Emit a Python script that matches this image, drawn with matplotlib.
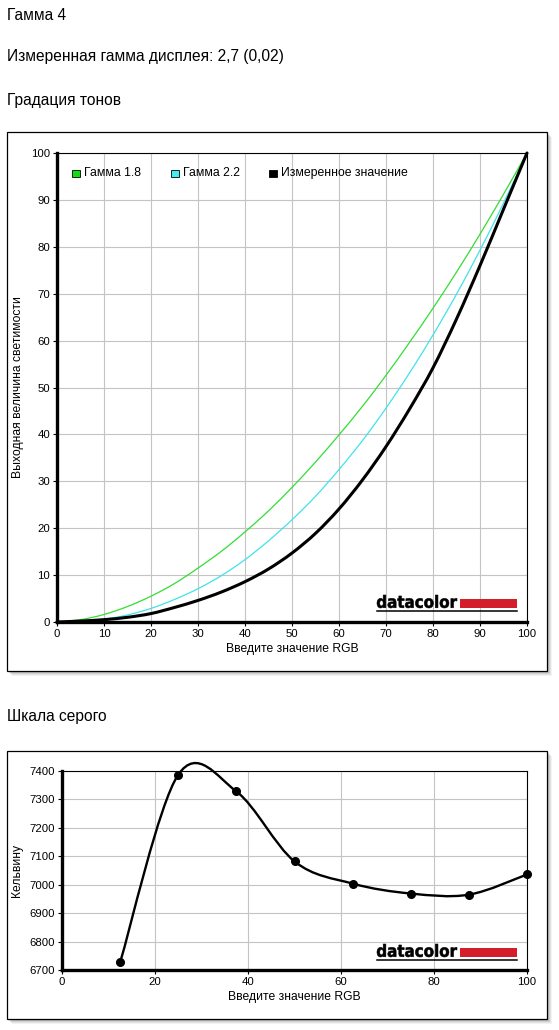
import numpy as np
import matplotlib
matplotlib.use("Agg")
import matplotlib.pyplot as plt
from matplotlib.patches import Rectangle, PathPatch
from matplotlib.lines import Line2D
from matplotlib.path import Path
from matplotlib.textpath import TextPath
from matplotlib.font_manager import FontProperties
from matplotlib.transforms import Affine2D

plt.rcParams['font.family'] = ['Liberation Sans', 'DejaVu Sans']

# ---- data ----
rgb_in = [0, 5, 10, 15, 20, 25, 30, 35, 40, 45, 50, 55, 60, 65, 70, 75, 80, 85, 90, 95, 100]
gamma18 = [0, 0.5, 1.6, 3.3, 5.5, 8.2, 11.5, 15.1, 19.2, 23.7, 28.7, 34.1, 39.9, 46.0, 52.6,
           59.6, 66.9, 74.6, 82.7, 91.2, 100]
gamma22 = [0, 0.1, 0.6, 1.5, 2.9, 4.8, 7.1, 9.9, 13.3, 17.3, 21.8, 26.8, 32.5, 38.7, 45.6,
           53.1, 61.2, 69.9, 79.3, 89.3, 100]
measured = [0, 0.2, 0.5, 1.0, 1.8, 3.1, 4.6, 6.4, 8.6, 11.3, 14.7, 18.9, 24.1, 30.3, 37.4,
            45.4, 54.2, 64.6, 76.0, 88.0, 100]

grey_rgb = [12.5, 25, 37.5, 50, 62.5, 75, 87.5, 100]
grey_kelvin = [6727, 7387, 7328, 7082, 7004, 6969, 6965, 7036]

legend_labels = ['Гамма 1.8', 'Гамма 2.2', 'Измеренное значение']

W, H = 559, 1030
fig = plt.figure(figsize=(W / 100, H / 100), dpi=100)
fig.patch.set_facecolor('white')


def fx(px):
    return px / W


def fy(py):
    return 1 - py / H


def smooth_path(xs, ys):
    # Catmull-Rom through the points, drawn as cubic Bezier segments
    pts = np.column_stack([xs, ys]).astype(float)
    verts = [pts[0]]
    codes = [Path.MOVETO]
    n = len(pts)
    for i in range(n - 1):
        p0 = pts[max(i - 1, 0)]
        p1 = pts[i]
        p2 = pts[i + 1]
        p3 = pts[min(i + 2, n - 1)]
        verts += [p1 + (p2 - p0) / 6, p2 - (p3 - p1) / 6, p2]
        codes += [Path.CURVE4] * 3
    return Path(verts, codes)


def panel(x0, y0, x1, y1):
    # soft shadow + framed box
    for off, a in [(5, 0.08), (4, 0.12), (3, 0.16), (2, 0.2)]:
        fig.add_artist(Rectangle((fx(x0 + off), fy(y1 + off)), (x1 - x0) / W, (y1 - y0) / H,
                                 transform=fig.transFigure, fc='#707070', ec='none', alpha=a, zorder=0))
    fig.add_artist(Rectangle((fx(x0), fy(y1)), (x1 - x0) / W, (y1 - y0) / H,
                             transform=fig.transFigure, fc='white', ec='black', lw=0.9, zorder=0.5))


def logo(x0, ybase):
    tp = TextPath((0, 0), 'datacolor', size=1,
                  prop=FontProperties(family='DejaVu Sans', weight='bold'))
    ext = tp.get_extents()
    sx = 80 / ext.width
    sy = 13 / ext.height
    tr = (Affine2D().translate(-ext.x0, -ext.y0).scale(sx / W, sy / H)
          .translate(fx(x0), fy(ybase)) + fig.transFigure)
    fig.add_artist(PathPatch(tp, transform=tr, fc='black', ec='black', lw=0.4, zorder=5))
    fig.add_artist(Rectangle((fx(x0 + 83), fy(ybase)), 57 / W, 9 / H,
                             transform=fig.transFigure, fc='#d21f2b', ec='none', zorder=5))
    fig.add_artist(Line2D([fx(x0), fx(x0 + 140)], [fy(ybase + 2.5)] * 2,
                          transform=fig.transFigure, color='black', lw=1.1, zorder=5))


def style_axes(ax):
    ax.set_facecolor('none')
    ax.grid(True, color='#c4c4c4', lw=0.8)
    ax.set_axisbelow(True)
    for s in ['left', 'bottom']:
        ax.spines[s].set_linewidth(2.4)
    for s in ['top', 'right']:
        ax.spines[s].set_linewidth(0.8)
    ax.tick_params(length=3, width=0.8, labelsize=8.2, pad=2, colors='black')


# ---- headings ----
fig.text(fx(7), fy(15), 'Гамма 4', fontsize=11.2, va='center', ha='left')
fig.text(fx(7), fy(56), 'Измеренная гамма дисплея: 2,7 (0,02)', fontsize=11.2, va='center', ha='left')
fig.text(fx(7), fy(100), 'Градация тонов', fontsize=11.2, va='center', ha='left')
fig.text(fx(7), fy(716), 'Шкала серого', fontsize=11.2, va='center', ha='left')

# ---- tone response chart ----
panel(7, 132, 547, 671)
ax1 = fig.add_axes([fx(57), fy(622), 470 / W, 469 / H], zorder=2)
style_axes(ax1)
ax1.add_patch(PathPatch(smooth_path(rgb_in, gamma18), fc='none', ec='#33dd33', lw=0.9, clip_on=False))
ax1.add_patch(PathPatch(smooth_path(rgb_in, gamma22), fc='none', ec='#3fe3ea', lw=0.9, clip_on=False))
ax1.add_patch(PathPatch(smooth_path(rgb_in, measured), fc='none', ec='black', lw=2.2,
                        clip_on=False, capstyle='round'))
ax1.set_xlim(0, 100)
ax1.set_ylim(0, 100)
ax1.set_xticks(range(0, 101, 10))
ax1.set_yticks(range(0, 101, 10))
ax1.set_xlabel('Введите значение RGB', fontsize=8.7, labelpad=3)
ax1.set_ylabel('Выходная величина светимости', fontsize=8.7, labelpad=5)

legend_colors = ['#11dd11', '#44eeee', 'black']
legend_x = [72, 171, 269]
for lab, col, lx in zip(legend_labels, legend_colors, legend_x):
    fig.add_artist(Rectangle((fx(lx), fy(177)), 7.5 / W, 7.5 / H, transform=fig.transFigure,
                             fc=col, ec='black', lw=0.6, zorder=5))
    fig.text(fx(lx + 12), fy(173), lab, fontsize=8.8, va='center', ha='left', zorder=5)

logo(377, 608)

# ---- greyscale chart ----
panel(7, 751, 547, 1019)
ax2 = fig.add_axes([fx(62), fy(970), 465 / W, 199 / H], zorder=2)
style_axes(ax2)
ax2.add_patch(PathPatch(smooth_path(grey_rgb, grey_kelvin), fc='none', ec='black', lw=1.7,
                        clip_on=False, zorder=3))
ax2.plot(grey_rgb, grey_kelvin, 'o', color='black', ms=5.5, clip_on=False, zorder=4)
ax2.set_xlim(0, 100)
ax2.set_ylim(6700, 7400)
ax2.set_xticks(range(0, 101, 20))
ax2.set_yticks(range(6700, 7401, 100))
ax2.set_xlabel('Введите значение RGB', fontsize=8.7, labelpad=3)
ax2.set_ylabel('Кельвину', fontsize=8.7, labelpad=5)

logo(377, 957)

fig.savefig('out.png', dpi=100)
